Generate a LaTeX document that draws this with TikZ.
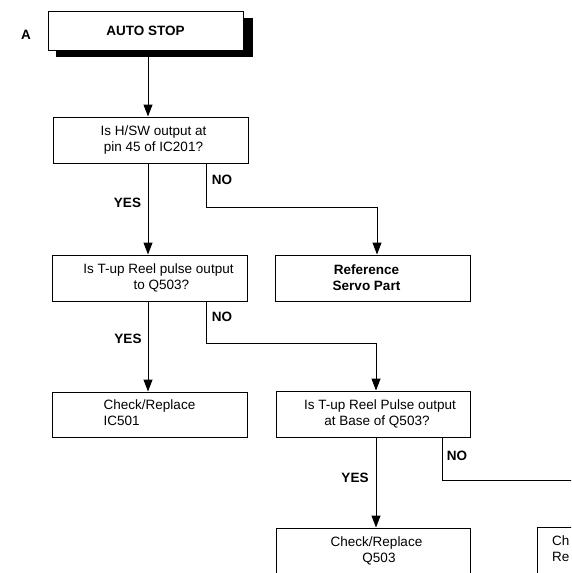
\documentclass[tikz,border=0pt]{standalone}
\usepackage{fontspec}
\setmainfont{Liberation Sans}
\usetikzlibrary{arrows.meta}
\begin{document}
\begin{tikzpicture}[x=1pt,y=-1pt,
  every node/.style={font=\fontsize{13.5}{16}\selectfont},
  box/.style={draw, line width=1pt, fill=white, minimum width=195pt, minimum height=46pt, inner sep=0pt, align=center},
  lbl/.style={font=\fontsize{13.5}{16}\selectfont\bfseries, inner sep=0pt},
  conn/.style={line width=1pt},
  arr/.style={conn, -{Triangle[length=12pt,width=9pt]}}]
\useasboundingbox (0,0) rectangle (571,573);
\clip (0,0) rectangle (571,573);
% shadow of the title box
\fill[black] (56,18) rectangle (253,57);
\node[box, minimum height=39pt, font=\fontsize{13.5}{16}\selectfont\bfseries] (auto) at (145.5,30.5) {AUTO STOP};
\node[lbl] (lA) at (26,35) {A};

\node[box] (q1) at (150.5,140) {\hspace*{6pt}Is H/SW output at\\\hspace*{6pt}pin 45 of IC201?};
\node[box] (q2) at (149.5,278) {\hspace*{18pt}Is T-up Reel pulse output\\\hspace*{24pt}to Q503?};
\node[box, font=\fontsize{13.5}{16}\selectfont\bfseries] (ref) at (372.5,278) {Reference\hspace*{12pt}\\Servo Part\hspace*{12pt}};
\node[box, minimum height=45pt] (ic) at (149.5,414.5) {\begin{tabular}{@{}l@{}}Check/Replace\\IC501\end{tabular}};
\node[box, minimum width=194pt] (q3) at (373,414) {\hspace*{14pt}Is T-up Reel Pulse output\\\hspace*{8pt}at Base of Q503?};
\node[box, minimum width=194pt] (q503) at (373,551) {\hspace*{7pt}Check/Replace\\\hspace*{12pt}Q503};
\node[box, anchor=north west] (b6) at (537,527) {};
\node[inner sep=0pt, anchor=west, align=left] (b6t) at (552,549) {Ch\\Re};

% labels
\node[lbl] (y1) at (127.5,203) {YES};
\node[lbl] (n1) at (222,180) {NO};
\node[lbl] (y2) at (128,339) {YES};
\node[lbl] (n2) at (222,317) {NO};
\node[lbl] (y3) at (355,478) {YES};
\node[lbl] (n3) at (457,456) {NO};

% connectors
\draw[arr] (auto.south -| 148,0) -- (q1.north -| 148,0);
\draw[arr] (q1.south -| 148,0) -- (q2.north -| 148,0);
\draw[arr] (q1.south -| 206,0) -- (206,207) -| (ref.north -| 377,0);
\draw[arr] (q2.south -| 148,0) -- (ic.north -| 148,0);
\draw[arr] (q2.south -| 206,0) -- (206,343) -| (q3.north -| 376,0);
\draw[arr] (q3.south -| 376,0) -- (q503.north -| 376,0);
\coordinate (e3) at (575,480);
\draw[conn] (q3.south -| 442,0) |- (e3);
\end{tikzpicture}
\end{document}
